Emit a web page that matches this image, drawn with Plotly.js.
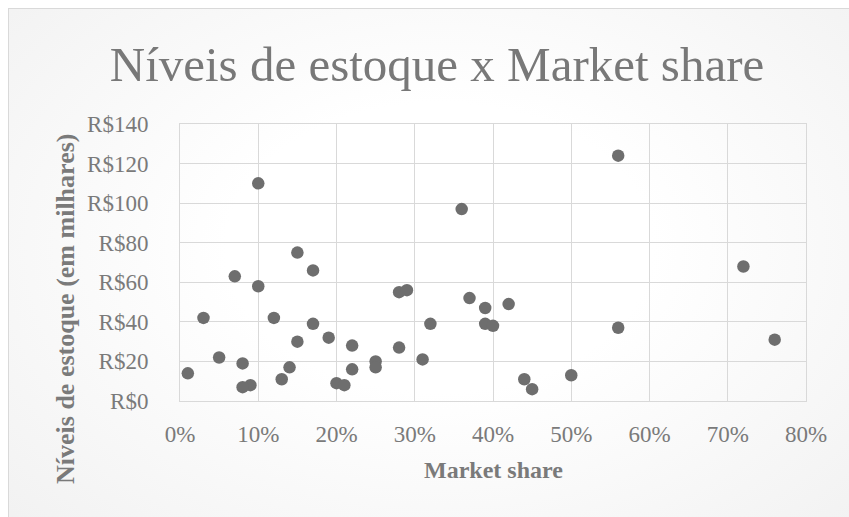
<!DOCTYPE html>
<html>
<head>
<meta charset="utf-8">
<script src="https://cdn.plot.ly/plotly-3.0.1.min.js"></script>
<style>
  html, body { margin: 0; padding: 0; background: #ffffff; overflow: hidden; }
  #frame {
    position: absolute; left: 8px; top: 8px; width: 860px; height: 530px;
    border: 1px solid #d9d9d9;
    background: radial-gradient(ellipse at 50% 45%, #ffffff 0%, #ffffff 35%, #f1f1f1 100%);
  }
  #chart { position: absolute; left: 0; top: 0; width: 849px; height: 517px; }
</style>
</head>
<body>
<div id="frame"></div>
<div id="chart"></div>
<script>
// Market share (fraction)
const marketShare = [
  0.01, 0.10, 0.36, 0.15, 0.17, 0.07, 0.10, 0.28, 0.29, 0.37,
  0.39, 0.03, 0.12, 0.17, 0.32, 0.39, 0.40, 0.19, 0.15, 0.22,
  0.28, 0.05, 0.31, 0.25, 0.08, 0.25, 0.14, 0.22, 0.13, 0.20,
  0.21, 0.09, 0.08, 0.56, 0.72, 0.42, 0.56, 0.76, 0.50, 0.44,
  0.45
];
// Stock levels (R$ thousands)
const stockLevels = [
  14, 110, 97, 75, 66, 63, 58, 55, 56, 52,
  47, 42, 42, 39, 39, 39, 38, 32, 30, 28,
  27, 22, 21, 20, 19, 17, 17, 16, 11, 9,
  8, 8, 7, 124, 68, 49, 37, 31, 13, 11,
  6
];
const yTickValues = [0, 20, 40, 60, 80, 100, 120, 140];
const yTickLabels = ['R$0', 'R$20', 'R$40', 'R$60', 'R$80', 'R$100', 'R$120', 'R$140'];
const xTickValues = [0, 0.1, 0.2, 0.3, 0.4, 0.5, 0.6, 0.7, 0.8];
const xTickLabels = ['0%', '10%', '20%', '30%', '40%', '50%', '60%', '70%', '80%'];

const chartTitle = 'Níveis de estoque x Market share';
const xTitle = 'Market share';
const yTitle = 'Níveis de estoque (em milhares)';

const textColor = '#7a7a7a';
const gridColor = '#d9d9d9';
const serif = '"Liberation Serif", "DejaVu Serif", serif';

const trace = {
  type: 'scatter',
  mode: 'markers',
  x: marketShare,
  y: stockLevels,
  marker: { size: 12.5, color: '#6e6e6e', line: { width: 0 } },
  hoverinfo: 'x+y'
};

const layout = {
  width: 849,
  height: 517,
  margin: { l: 180, r: 43, t: 124, b: 116, pad: 0 },
  paper_bgcolor: 'rgba(0,0,0,0)',
  plot_bgcolor: 'rgba(0,0,0,0)',
  showlegend: false,
  font: { family: serif, color: textColor },
  title: {
    text: chartTitle,
    font: { family: serif, size: 49, color: '#787878' },
    xref: 'container', yref: 'container',
    x: 437 / 849, xanchor: 'center',
    y: 1 - 64 / 517, yanchor: 'middle'
  },
  xaxis: {
    range: [0, 0.8],
    tickmode: 'array',
    tickvals: xTickValues,
    ticktext: xTickLabels,
    showgrid: true, gridcolor: gridColor, gridwidth: 1,
    zeroline: false,
    showline: true, mirror: true, linecolor: gridColor, linewidth: 1,
    ticks: 'outside', ticklen: 12, tickcolor: 'rgba(0,0,0,0)',
    tickfont: { family: serif, size: 23, color: textColor },
    fixedrange: true
  },
  yaxis: {
    range: [0, 140],
    tickmode: 'array',
    tickvals: yTickValues,
    ticktext: yTickLabels,
    showgrid: true, gridcolor: gridColor, gridwidth: 1,
    zeroline: false,
    showline: true, mirror: true, linecolor: gridColor, linewidth: 1,
    ticks: 'outside', ticklen: 26, tickcolor: 'rgba(0,0,0,0)',
    tickfont: { family: serif, size: 23, color: textColor },
    fixedrange: true
  },
  annotations: [
    {
      text: '<b>' + xTitle + '</b>',
      xref: 'paper', yref: 'paper',
      x: 0.5, y: -(470 - 401) / 277,
      xanchor: 'center', yanchor: 'middle',
      showarrow: false,
      font: { family: serif, size: 24, color: textColor }
    },
    {
      text: '<b>' + yTitle + '</b>',
      xref: 'paper', yref: 'paper',
      x: (65 - 180) / 626, y: (401 - 309) / 277,
      xanchor: 'center', yanchor: 'middle',
      textangle: -90,
      showarrow: false,
      font: { family: serif, size: 26, color: textColor }
    }
  ]
};

Plotly.newPlot('chart', [trace], layout, { staticPlot: true, displayModeBar: false });
</script>
</body>
</html>
